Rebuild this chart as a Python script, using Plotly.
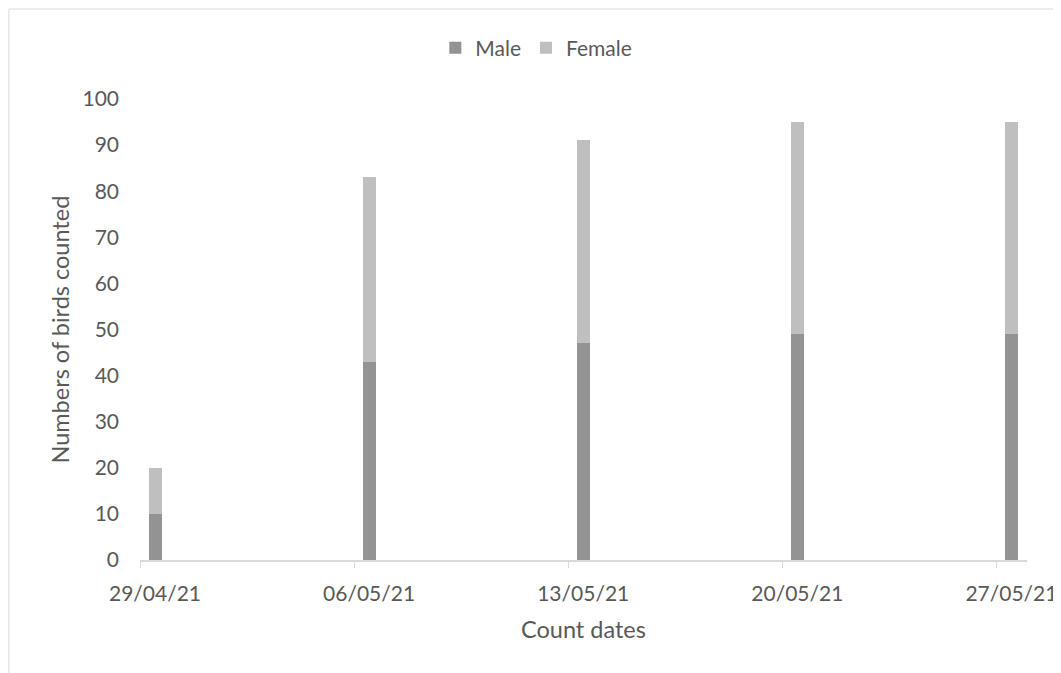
import plotly.graph_objects as go
import pandas as pd

dates = ["2021-04-29", "2021-05-06", "2021-05-13", "2021-05-20", "2021-05-27"]
tick_labels = ["29/04/21", "06/05/21", "13/05/21", "20/05/21", "27/05/21"]
male = [10, 43, 47, 49, 49]
female = [10, 40, 44, 46, 46]

FONT = "Lato, Open Sans, sans-serif"
TXT = "#595959"

# bars sit in the day's slot (Excel date axis)
bar_x = [pd.Timestamp(d) + pd.Timedelta(hours=12) for d in dates]
day_ms = 86400000
bw = 0.42 * day_ms

fig = go.Figure()
fig.add_trace(go.Bar(x=bar_x, y=male, name="Male", width=[bw] * len(dates),
                     marker=dict(color="#939393", line=dict(width=0))))
fig.add_trace(go.Bar(x=bar_x, y=female, name="Female", width=[bw] * len(dates),
                     marker=dict(color="#bfbfbf", line=dict(width=0))))

OFF = 8  # page body margin offset
L, R, T, B = 140 - OFF, 28 + OFF, 99 - OFF, 113 + OFF
W, H = 1061, 673
pw, ph = W - L - R, H - T - B

def px_x(x):
    return (x - OFF - L) / pw

def px_y(y):
    return (H - B - (y - OFF)) / ph

fig.update_layout(
    barmode="stack",
    width=W, height=H,
    margin=dict(l=L, r=R, t=T, b=B),
    plot_bgcolor="white", paper_bgcolor="white",
    font=dict(family=FONT, color=TXT, size=21),
    showlegend=True,
    legend=dict(orientation="h", x=px_x(539), xanchor="center",
                y=px_y(48), yanchor="middle",
                font=dict(size=21, color=TXT), itemwidth=30, traceorder="normal"),
    xaxis=dict(type="date", range=["2021-04-29", "2021-05-28"],
               tickvals=dates, ticktext=tick_labels,
               showgrid=False, showline=True, linecolor="#d9d9d9", linewidth=1.5,
               ticks="outside", ticklen=6, tickcolor="#d9d9d9",
               ticklabelshift=15, ticklabelstandoff=8,
               tickfont=dict(size=21, color=TXT), zeroline=False),
    yaxis=dict(range=[0, 100], tickvals=list(range(0, 101, 10)),
               showgrid=False, showline=False, zeroline=False,
               ticks="", tickfont=dict(size=21, color=TXT), ticklabelstandoff=20),
    annotations=[
        dict(text="Numbers of birds counted", xref="paper", yref="paper",
             x=px_x(59), y=px_y(330), textangle=-90, showarrow=False,
             xanchor="center", yanchor="middle", font=dict(size=23.5, color=TXT)),
        dict(text="Count dates", xref="paper", yref="paper",
             x=px_x(587), y=px_y(629), showarrow=False,
             xanchor="center", yanchor="middle", font=dict(size=23.5, color=TXT)),
    ],
    shapes=[
        dict(type="rect", xref="paper", yref="paper",
             x0=px_x(8), x1=px_x(1090),
             y0=px_y(720), y1=px_y(9),
             line=dict(color="#d9d9d9", width=1), fillcolor="rgba(0,0,0,0)", layer="below"),
    ],
)

fig.write_html("out.html")
